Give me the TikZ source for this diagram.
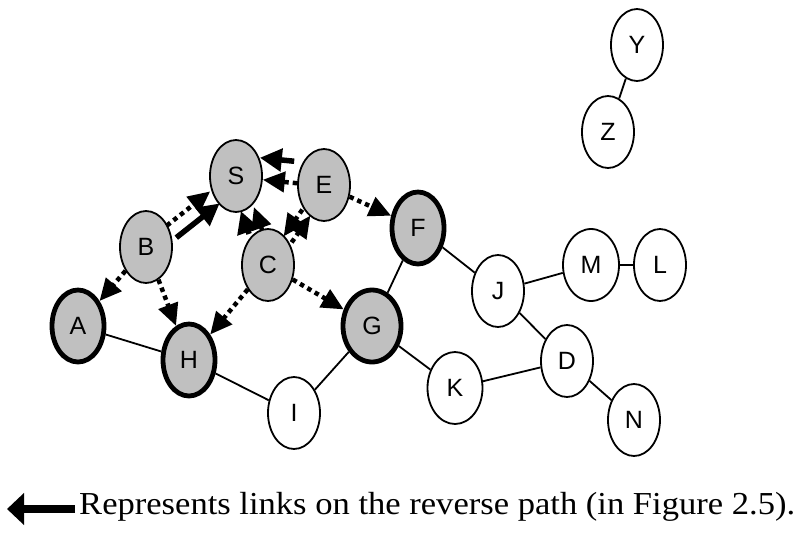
\documentclass[tikz,border=0pt]{standalone}
\usepackage{fontspec}
\setmainfont{Liberation Serif}
\newfontfamily\labelfont{Liberation Sans}
\newfontfamily\notefont[FakeStretch=1.08]{Liberation Serif}
\usetikzlibrary{positioning,shapes.geometric,arrows.meta}
\definecolor{visited}{RGB}{192,192,192}

\begin{document}
\begin{tikzpicture}[x=1pt,y=-1pt,on grid,
		hostnode/.style={ellipse,draw,line width=1.8pt,minimum width=52pt,minimum height=72pt,inner sep=0pt,font=\labelfont\fontsize{25}{25}\selectfont},
		greynode/.style={hostnode,fill=visited},
		boldnode/.style={greynode,line width=4.8pt},
		link/.style={line width=1.8pt},
		rreq/.style={line width=4.5pt,dash pattern=on 4.5pt off 4pt,-{Triangle[length=22pt,width=20pt]}},
		rrep/.style={line width=5.5pt,-{Triangle[length=22pt,width=22pt]}}]
		\useasboundingbox (0,0) rectangle (798,536);

		\node[greynode]											(S)	at (236,176)	{S};
		\node[greynode,below right=9pt and 88pt of S]				(E)	{E};
		\node[boldnode,below right=43pt and 94pt of E]				(F)	{F};
		\node[greynode,below left=71pt and 90pt of S]				(B)	{B};
		\node[greynode,below right=89pt and 32pt of S]				(C)	{C};
		\node[boldnode,below left=79pt and 68pt of B]				(A)	{A};
		\node[boldnode,below right=113pt and 43pt of B]			(H)	{H};
		\node[boldnode,below right=61pt and 104pt of C,minimum width=58pt]	(G)	{G};
		\node[hostnode,below left=87pt and 78pt of G]				(I)	{I};
		\node[hostnode,below right=63pt and 80pt of F]				(J)	{J};
		\node[hostnode,above right=26pt and 93pt of J,minimum width=56pt]	(M)	{M};
		\node[hostnode,right=69pt of M]							(L)	{L};
		\node[hostnode,below right=70pt and 69pt of J]				(D)	{D};
		\node[hostnode,below left=27pt and 112pt of D,minimum width=55pt]	(K)	{K};
		\node[hostnode,below right=59pt and 67pt of D]				(N)	{N};
		\node[hostnode,above right=133pt and 17pt of M]			(Z)	{Z};
		\node[hostnode,above right=87pt and 29pt of Z]				(Y)	{Y};

		% plain links
		\draw[link] (A) -- (H);
		\draw[link] (H) -- (I);
		\draw[link] (I) -- (G);
		\draw[link] (G) -- (F);
		\draw[link] (G) -- (K);
		\draw[link] (F) -- (J);
		\draw[link] (J) -- (M);
		\draw[link] (M) -- (L);
		\draw[link] (J) -- (D);
		\draw[link] (K) -- (D);
		\draw[link] (D) -- (N);
		\draw[link] (Y) -- (Z);

		% request flooding
		\draw[rreq] (B) -- (A);
		\draw[rreq] (B) -- (H);
		\draw[rreq] (C) -- (H);
		\draw[rreq] (C) -- (G);
		\draw[rreq] (E) -- (F);
		\draw[rreq,transform canvas={shift={(-2.5pt,3pt)}}] (B) -- (S);
		\draw[rreq,transform canvas={shift={(6pt,2pt)}}] (C) -- (S);
		\draw[rreq,transform canvas={shift={(0pt,-1pt)}}] (E) -- (S);
		\draw[rreq,transform canvas={shift={(5pt,-4pt)}}] (C) -- (E);
		\draw[rreq,transform canvas={shift={(-3pt,2pt)}}] (E) -- (C);

		% reverse path
		\draw[rrep,transform canvas={shift={(7pt,-9pt)}}] (B) -- (S);
		\draw[rrep,transform canvas={shift={(-7pt,-2pt)}}] (C) -- (S);
		\draw[rrep,transform canvas={shift={(-3pt,21pt)}}] (E) -- (S);

		% legend
		\coordinate (tail) at (75,509);
		\coordinate (tip) at (7,509);
		\draw[line width=8pt,-{Triangle[length=17pt,width=31pt]}] (tail) -- (tip);
		\node[anchor=base west,inner sep=0pt,font=\notefont\fontsize{32}{32}\selectfont] (note) at (79,514) {Represents links on the reverse path (in Figure 2.5).};
	\end{tikzpicture}
\end{document}
